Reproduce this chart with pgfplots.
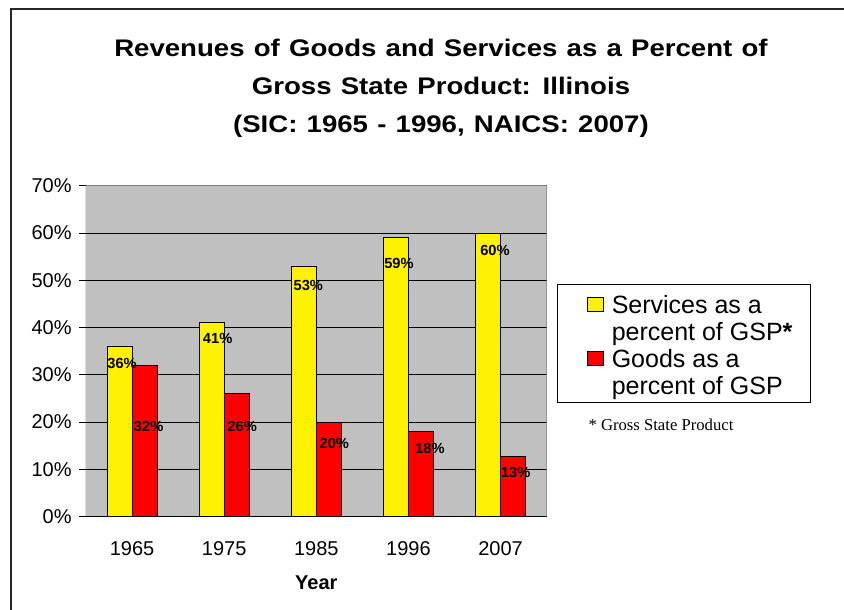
\documentclass[border=0pt]{standalone}
\usepackage{fontspec}
\setmainfont{Liberation Sans}
\newfontfamily\timesfont{Liberation Serif}
\newfontfamily\titlefont[FakeStretch=1.15,WordSpace=1.2]{Liberation Sans}
\usepackage{pgfplots}
\usepackage{pgfplotstable}
\pgfplotsset{compat=1.18}
\definecolor{plotgray}{RGB}{192,192,192}
\definecolor{bordergray}{RGB}{128,128,128}

\pgfplotstableread{
x services goods
0 36 32
1 41 26
2 53 20
3 59 18
4 60 12.7
}\datatable

\pgfplotstableread{
x y label
-0.109 32.44 36
0.180 19.14 32
0.929 37.64 41
1.196 19.14 26
1.913 48.89 53
2.195 15.44 20
2.897 53.50 59
3.233 14.38 18
3.939 56.34 60
4.164 9.28 13
}\labeltable

\begin{document}
\begin{tikzpicture}
\path[use as bounding box] (0,0) rectangle (633pt,-457.5pt);
\draw[line width=1.5pt, black!85] (7.9pt,-470pt) -- (7.9pt,-7.1pt) -- (640pt,-7.1pt);
\begin{axis}[
  at={(64.5pt,-387.5pt)}, anchor=south west,
  scale only axis, width=345.5pt, height=248.25pt,
  xmin=-0.5, xmax=4.5, ymin=0, ymax=70,
  axis background/.style={fill=plotgray},
  axis line style={draw=none},
  tick pos=left, tick align=outside,
  major tick length=5.25pt, minor tick length=4.5pt,
  xtick={0,1,2,3,4},
  xticklabels={1965,1975,1985,1996,2007},
  xtick style={draw=none},
  minor xtick={-0.5,0.5,1.5,2.5,3.5,4.5},
  minor tick style={black, line width=0.6pt},
  ytick={0,10,...,70},
  ytick style={black, line width=0.6pt},
  yticklabel={\pgfmathprintnumber{\tick}\%},
  /pgf/number format/assume math mode=true,
  tick label style={font=\fontsize{15}{18}\selectfont},
  xticklabel style={yshift=-10pt},
  yticklabel style={xshift=-2pt},
  ymajorgrids,
  major grid style={black, line width=0.6pt},
  xlabel={\bfseries Year},
  xlabel style={at={(axis description cs:0.5,-0.2215)}, anchor=base, font=\fontsize{15}{18}\selectfont},
  title={Revenues of Goods and Services as a Percent of\\Gross State Product: Illinois\\(SIC: 1965 - 1996, NAICS: 2007)},
  title style={at={(axis description cs:0.7706,1.418)}, anchor=north, inner sep=0pt, align=center,
    font=\titlefont\bfseries\fontsize{18}{28.5}\selectfont},
  legend style={at={(axis description cs:1.0217,0.703)}, anchor=north west,
    draw=black, line width=0.6pt, fill=white, inner xsep=7pt, inner ysep=0pt,
    row sep=2.4pt,
    cells={anchor=base west},
    nodes={inner xsep=6.25pt, inner ysep=0pt, text height=14pt, text depth=4pt},
    font=\fontsize{18.75}{20.8}\selectfont},
  nodes near coords style={font=\bfseries\fontsize{11}{13}\selectfont},
]
\addplot[ybar, bar width=18.75pt, bar shift=-9.375pt, fill=yellow, draw=black, line width=0.6pt,
  legend image code/.code={
    \path[draw=none, fill=none] (0pt,21.5pt) -- (0pt,0pt);
    \draw[fill=yellow, draw=black, line width=0.6pt] (15.5pt,1.25pt) rectangle (27.5pt,11.75pt);}]
  table[x=x, y=services] {\datatable};
\addlegendentry{Services as a}
\addlegendimage{legend image code/.code={\path[draw=none, fill=none] (0pt,0pt) -- (0pt,1pt);}}
\addlegendentry{percent of GSP\textbf{*}}
\addplot[ybar, bar width=18.75pt, bar shift=9.375pt, fill=red, draw=black, line width=0.6pt,
  legend image code/.code={
    \path[draw=none, fill=none] (0pt,0pt) -- (0pt,1pt);
    \draw[fill=red, draw=black, line width=0.6pt] (15.5pt,1.25pt) rectangle (27.5pt,11.75pt);}]
  table[x=x, y=goods] {\datatable};
\addlegendentry{Goods as a}
\addlegendimage{legend image code/.code={\path[draw=none, fill=none] (0pt,-6pt) -- (0pt,0pt);}}
\addlegendentry{percent of GSP}
\addplot[only marks, mark=*, mark size=0pt, mark options={draw=none, fill=none}, forget plot,
  nodes near coords={\pgfplotspointmeta\%}, nodes near coords align={center},
  point meta=explicit symbolic]
  table[x=x, y=y, meta=label] {\labeltable};
\draw[bordergray, line width=0.75pt] (rel axis cs:0,1) -- (rel axis cs:1,1) -- (rel axis cs:1,0);
\draw[black, line width=0.75pt] (rel axis cs:0,1) -- (rel axis cs:0,0) -- (rel axis cs:1,0);
\end{axis}
\node[anchor=base west, inner sep=0pt, font=\timesfont\fontsize{12.5}{15}\selectfont] at (441.2pt,-322.5pt) {* Gross State Product};
\end{tikzpicture}
\end{document}
